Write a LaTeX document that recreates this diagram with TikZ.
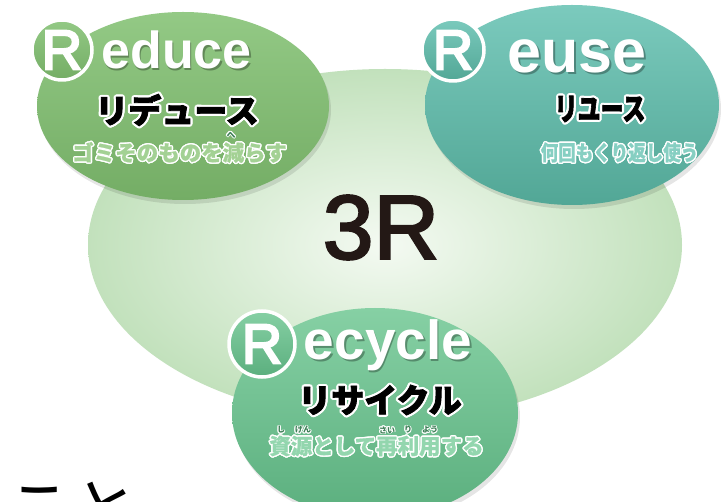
\documentclass[tikz,border=0pt]{standalone}
\usepackage{fontspec}
\usepackage{graphicx}
\setmainfont{Liberation Sans}
\newfontfamily\cjk{Noto Sans CJK JP}
\newfontfamily\cjkF[BoldFeatures={FakeBold=2.5}]{Noto Sans CJK JP}
\newfontfamily\cjkS[BoldFeatures={FakeBold=0.8}]{Noto Sans CJK JP}
\newfontfamily\latin{Liberation Sans}
\newfontfamily\rfont[FakeBold=4]{Liberation Sans}
\newfontfamily\tfont[FakeBold=2.5]{Liberation Sans}
\newcommand\fs[1]{\fontsize{#1}{#1}\selectfont}
\definecolor{paleIn}{HTML}{F4FAF2}
\definecolor{paleOut}{HTML}{C2E1BC}
\definecolor{redTop}{HTML}{93C985}
\definecolor{redBot}{HTML}{74AD65}
\definecolor{redSub}{HTML}{A3D194}
\definecolor{reuTop}{HTML}{7BCABD}
\definecolor{reuBot}{HTML}{52A796}
\definecolor{reuSub}{HTML}{86CFC2}
\definecolor{recTop}{HTML}{86D0A4}
\definecolor{recBot}{HTML}{5BAF7E}
\definecolor{recSub}{HTML}{93D6AE}
\definecolor{rubyCol}{HTML}{3E7F57}
\definecolor{ink}{HTML}{231815}
% outlined text: #1 coord, #2 name, #3 font, #4 fill, #5 outline colour, #6 outline width, #7 text
\newcommand\otext[7]{%
  \foreach \a in {0,30,...,330}{\node[inner sep=0,text=#5,font={#3}] at ([shift={(\a:#6)}]#1) {#7};}%
  \node[inner sep=0,text=#4,font={#3}] (#2) at (#1) {#7};%
}
% shadowed white text: #1 coord, #2 name, #3 font, #4 text
\newcommand\stext[4]{%
  \node[inner sep=0,text=black,opacity=0.3,font={#3}] at ([shift={(1.6,2)}]#1) {#4};%
  \node[inner sep=0,text=white,font={#3}] (#2) at (#1) {#4};%
}
\tikzset{
  rcircle/.style={white, line width=3.5pt},
  rletter/.style={inner sep=0, text=white, font=\rfont\fs{56}},
}
\begin{document}
\begin{tikzpicture}[x=1pt,y=-1pt]
\clip (0,0) rectangle (723,502);
\fill[white] (0,0) rectangle (723,502);
% big pale ellipse
\shade[inner color=paleIn, outer color=paleOut] (385,245) ellipse [x radius=297, y radius=176];
% Reduce
\fill[black,opacity=0.10] (185,110) ellipse [x radius=146, y radius=94];
\shade[top color=redTop, bottom color=redBot] (183,106) ellipse [x radius=146, y radius=94];
% Reuse
\fill[black,opacity=0.10] (574,109) ellipse [x radius=147, y radius=100];
\shade[top color=reuTop, bottom color=reuBot] (572,105) ellipse [x radius=147, y radius=100];
% Recycle
\fill[black,opacity=0.10] (377,417) ellipse [x radius=143, y radius=105];
\shade[top color=recTop, bottom color=recBot] (375,413) ellipse [x radius=143, y radius=105];
% R circles
\shade[top color=redTop, bottom color=redBot] (62,50) circle [radius=30];
\draw[rcircle] (62,50) circle [radius=30];
\node[rletter] (rR) at (62,50) {R};
\shade[top color=reuTop, bottom color=reuBot] (453,50) circle [radius=31];
\draw[rcircle] (453,50) circle [radius=31];
\node[rletter] (uR) at (453,50) {R};
\shade[top color=recTop, bottom color=recBot] (262,344) circle [radius=33];
\draw[rcircle] (262,344) circle [radius=33];
\node[rletter] (cR) at (262,344) {R};
% Latin words
\stext{176.5,50}{educe}{\latin\bfseries\fs{52}}{educe}
\stext{577,56}{euse}{\latin\bfseries\fs{61}}{euse}
\stext{388,345}{ecycle}{\latin\bfseries\fs{55}}{ecycle}
% Katakana headings
\otext{177,110}{redKana}{\cjkF\bfseries\fs{33}}{black}{white}{2.2}{リデュース}
\otext{600,109}{reuKana}{\cjkF\bfseries\fs{23}}{black}{white}{2.2}{\scalebox{1}[1.35]{リユース}}
\otext{380,400}{recKana}{\cjkF\bfseries\fs{33}}{black}{white}{2.2}{リサイクル}
% sub texts
\otext{179.5,152.5}{redSubT}{\cjkS\bfseries\fs{21.5}}{redSub}{white}{1.4}{ゴミそのものを減らす}
\otext{619.5,152.5}{reuSubT}{\cjkS\bfseries\fs{17.5}}{reuSub}{white}{1.4}{\scalebox{1}[1.2]{何回もくり返し使う}}
\otext{376.5,446}{recSubT}{\cjkS\bfseries\fs{21.5}}{recSub}{white}{1.4}{資源として再利用する}
% ruby
\otext{231,135}{rubyHe}{\cjk\bfseries\fs{9}}{rubyCol}{white}{0.9}{へ}
\otext{281,430}{rubyShi}{\cjk\bfseries\fs{8}}{rubyCol}{white}{0.9}{し}
\otext{303,430}{rubyGen}{\cjk\bfseries\fs{8}}{rubyCol}{white}{0.9}{げん}
\otext{387,430}{rubySai}{\cjk\bfseries\fs{8}}{rubyCol}{white}{0.9}{さい}
\otext{408,430}{rubyRi}{\cjk\bfseries\fs{8}}{rubyCol}{white}{0.9}{り}
\otext{430,430}{rubyYou}{\cjk\bfseries\fs{8}}{rubyCol}{white}{0.9}{よう}
% 3R
\node[inner sep=0, text=ink, font=\tfont\fs{91}] (threeR) at (381,227.5) {3R};
% bottom-left text (cut off)
\node[inner sep=0, anchor=base west, text=black, font=\cjk\fs{66}] (koto) at (6,533) {こと};
\end{tikzpicture}
\end{document}
